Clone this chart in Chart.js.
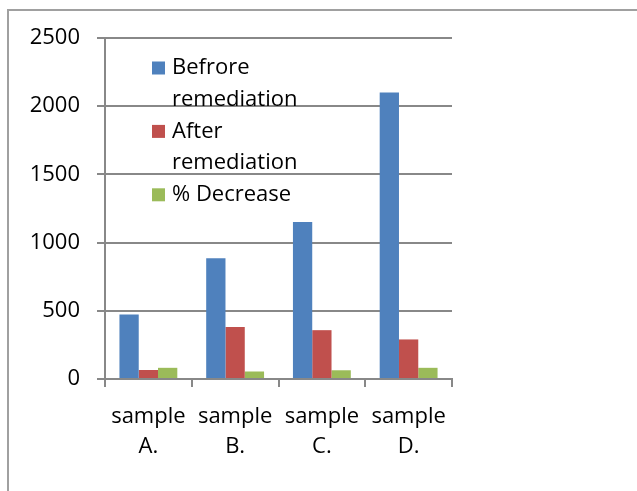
<!DOCTYPE html>
<html>
<head>
<meta charset="utf-8">
<script src="https://cdn.jsdelivr.net/npm/chart.js@4/dist/chart.umd.min.js"></script>
<style>
  html, body { margin: 0; padding: 0; background: #fff; }
  #wrap { width: 637px; height: 491px; position: relative; }
</style>
</head>
<body>
<div id="wrap"><canvas id="remediationChart"></canvas></div>
<script>
// data
const categories = [["sample", "A."], ["sample", "B."], ["sample", "C."], ["sample", "D."]];
const seriesNames = [["Befrore", "remediation"], ["After", "remediation"], ["% Decrease"]];
const beforeValues = [473, 885, 1151, 2100];
const afterValues = [66, 382, 358, 290];
const decreaseValues = [82, 55, 64, 82];
const yTicks = [0, 500, 1000, 1500, 2000, 2500];

const seriesColors = ["#4F81BD", "#C0504D", "#9BBB59"];
const gridColor = "#888888";
const fontFamily = "'Open Sans', sans-serif";

// outer frame + legend drawn inside the plot area
const framePlugin = {
    id: "frame",
    beforeDraw(chart) {
        const ctx = chart.ctx;
        ctx.save();
        ctx.strokeStyle = "#a0a0a0";
        ctx.lineWidth = 2;
        ctx.beginPath();
        ctx.moveTo(8, chart.height);
        ctx.lineTo(8, 10);
        ctx.lineTo(chart.width, 10);
        ctx.stroke();
        ctx.restore();
    },
    afterDraw(chart) {
        const ctx = chart.ctx;
        ctx.save();
        ctx.font = "22px " + fontFamily;
        ctx.textBaseline = "middle";
        ctx.fillStyle = "#000";
        let y = 68;
        const step = 31.7;
        chart.data.datasets.forEach((ds, i) => {
            ctx.fillStyle = ds.backgroundColor;
            ctx.fillRect(152, y - 6.5, 13, 13);
            ctx.fillStyle = "#000";
            ds.legendLines.forEach(line => {
                ctx.fillText(line, 172, y);
                y += step;
            });
        });
        ctx.restore();
    }
};

const ctx = document.getElementById("remediationChart").getContext("2d");
new Chart(ctx, {
    type: "bar",
    data: {
        labels: categories,
        datasets: [beforeValues, afterValues, decreaseValues].map((vals, i) => ({
            label: seriesNames[i].join(" "),
            legendLines: seriesNames[i],
            data: vals,
            backgroundColor: seriesColors[i],
            categoryPercentage: 0.667,
            barPercentage: 1.0
        }))
    },
    options: {
        responsive: true,
        maintainAspectRatio: false,
        animation: false,
        layout: { padding: { left: 0, top: 38, right: 185, bottom: 0 } },
        plugins: {
            legend: { display: false },
            tooltip: { enabled: false }
        },
        scales: {
            x: {
                afterFit: scale => { scale.height = 112; },
                grid: {
                    offset: true,
                    drawOnChartArea: false,
                    drawTicks: true,
                    tickLength: 8,
                    color: gridColor,
                    lineWidth: 2
                },
                border: { color: gridColor, width: 2 },
                ticks: {
                    color: "#000",
                    padding: 15,
                    maxRotation: 0,
                    font: { family: fontFamily, size: 22, lineHeight: 1.37 }
                }
            },
            y: {
                min: 0,
                max: 2500,
                afterFit: scale => { scale.width = 105; },
                afterBuildTicks: scale => { scale.ticks = yTicks.map(v => ({ value: v })); },
                grid: {
                    color: gridColor,
                    lineWidth: 2,
                    tickLength: 8
                },
                border: { color: gridColor, width: 2 },
                ticks: {
                    color: "#000",
                    padding: 17,
                    callback: v => String(v),
                    font: { family: fontFamily, size: 22 }
                }
            }
        }
    },
    plugins: [framePlugin]
});
</script>
</body>
</html>
